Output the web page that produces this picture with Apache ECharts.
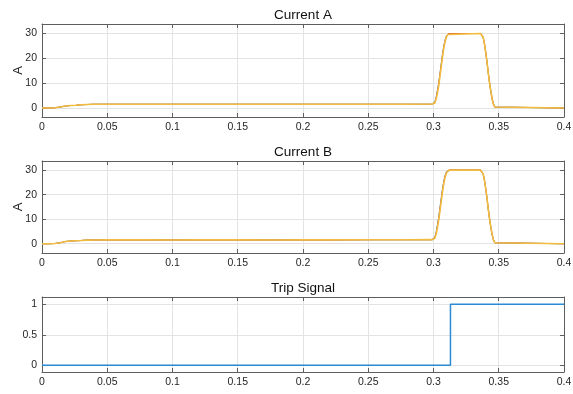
<!DOCTYPE html>
<html>
<head>
<meta charset="utf-8">
<script src="https://cdn.jsdelivr.net/npm/echarts@6/dist/echarts.min.js"></script>
<style>
  html, body { margin: 0; padding: 0; background: #fff; }
  #chart { width: 573px; height: 394px; }
</style>
</head>
<body>
<div id="chart"></div>
<script>
// Sample times (s) shared by the phase-current traces
const time = [0, 0.005, 0.01, 0.014, 0.018, 0.022, 0.026, 0.03, 0.035, 0.04, 0.05, 0.06, 0.08, 0.1,
  0.12, 0.15, 0.18, 0.2, 0.22, 0.25, 0.28, 0.299, 0.301, 0.302, 0.303, 0.304, 0.305, 0.306, 0.307,
  0.308, 0.309, 0.31, 0.311, 0.312, 0.336, 0.337, 0.338, 0.339, 0.34, 0.341, 0.342, 0.343, 0.344,
  0.345, 0.346, 0.347, 0.348, 0.4];

// Current A traces (A)
const currentA1 = [0, 0, 0.1, 0.4, 0.8, 1.0, 1.1, 1.3, 1.4, 1.5, 1.55, 1.55, 1.5, 1.5, 1.55, 1.5,
  1.5, 1.55, 1.5, 1.55, 1.55, 1.6, 2.4, 4.2, 7, 10, 14, 18, 22, 25.2, 27.5, 29, 29.8, 30, 30, 29.6,
  28.5, 26, 22.5, 18.5, 14, 10, 6.5, 3.5, 1.5, 0.4, 0, 0];
const currentA2 = [0, 0, 0.1, 0.4, 0.8, 1.0, 1.1, 1.3, 1.4, 1.5, 1.55, 1.55, 1.5, 1.5, 1.55, 1.5,
  1.5, 1.55, 1.5, 1.55, 1.55, 1.6, 2.2, 3.9, 6.6, 9.6, 13.6, 17.6, 21.6, 24.9, 27.3, 28.9, 29.7, 30,
  30, 29.6, 28.5, 26, 22.5, 18.5, 14, 10, 6.5, 3.5, 1.5, 0.4, 0, 0];
const currentA3 = [0, 0, 0.1, 0.4, 0.8, 1.0, 1.1, 1.3, 1.4, 1.5, 1.55, 1.55, 1.5, 1.5, 1.55, 1.5,
  1.5, 1.55, 1.5, 1.55, 1.55, 1.6, 2.0, 3.5, 6, 9, 13, 17, 21, 24.5, 27, 28.7, 29.6, 30, 30, 29.6,
  28.5, 26, 22.5, 18.5, 14, 10, 6.5, 3.5, 1.5, 0.4, 0, 0];

// Current B traces (A)
const currentB1 = [0, 0, 0.1, 0.4, 0.9, 1.1, 1.2, 1.3, 1.45, 1.5, 1.6, 1.55, 1.55, 1.5, 1.55, 1.55,
  1.5, 1.55, 1.55, 1.6, 1.6, 1.65, 2.6, 4.5, 7.5, 10.8, 14.8, 18.8, 22.6, 25.7, 27.9, 29.2, 29.9, 30,
  30, 29.6, 28.5, 26, 22.5, 18.5, 14, 10, 6.5, 3.5, 1.5, 0.4, 0, 0];
const currentB2 = [0, 0, 0.1, 0.4, 0.9, 1.1, 1.2, 1.3, 1.45, 1.5, 1.6, 1.55, 1.55, 1.5, 1.55, 1.55,
  1.5, 1.55, 1.55, 1.6, 1.6, 1.65, 2.4, 4.2, 7.1, 10.3, 14.3, 18.3, 22.2, 25.4, 27.7, 29.1, 29.8, 30,
  30, 29.6, 28.5, 26, 22.5, 18.5, 14, 10, 6.5, 3.5, 1.5, 0.4, 0, 0];
const currentB3 = [0, 0, 0.1, 0.4, 0.9, 1.1, 1.2, 1.3, 1.45, 1.5, 1.6, 1.55, 1.55, 1.5, 1.55, 1.55,
  1.5, 1.55, 1.55, 1.6, 1.6, 1.65, 2.2, 3.8, 6.5, 9.6, 13.6, 17.6, 21.5, 24.9, 27.3, 28.9, 29.7, 30,
  30, 29.6, 28.5, 26, 22.5, 18.5, 14, 10, 6.5, 3.5, 1.5, 0.4, 0, 0];

// Trip signal (step)
const tripTime = [0, 0.313, 0.313, 0.4];
const tripValue = [0, 0, 1, 1];

// Axis ticks
const timeTicks = [0, 0.05, 0.1, 0.15, 0.2, 0.25, 0.3, 0.35, 0.4];
const currentTicks = [0, 10, 20, 30];
const tripTicks = [0, 0.5, 1];

const titles = ['Current A', 'Current B', 'Trip Signal'];

const pair = (xs, ys) => xs.map((x, i) => [x, ys[i]]);

const FONT = '"Liberation Sans", Arial, sans-serif';
const boxColor = '#5e5e5e';
const gridColor = '#e3e3e3';
const textColor = '#262626';

const grids = [
  { left: 42, right: 9, top: 24, height: 93, outerBoundsMode: 'none', containLabel: false },
  { left: 42, right: 9, top: 161, height: 92, outerBoundsMode: 'none', containLabel: false },
  { left: 42, right: 9, top: 297, height: 75, outerBoundsMode: 'none', containLabel: false }
];
const yRanges = [[-3.6, 33.8], [-3.8, 33.7], [-0.11, 1.12]];
const yTicks = [currentTicks, currentTicks, tripTicks];

const xAxes = [];
const yAxes = [];
grids.forEach((g, i) => {
  // bottom axis with labels
  xAxes.push({
    type: 'value', gridIndex: i, min: 0, max: 0.4, interval: 0.05, position: 'bottom',
    axisLine: { show: true, onZero: false, lineStyle: { color: boxColor, width: 1 } },
    axisTick: { show: true, inside: true, length: 4, lineStyle: { color: boxColor } },
    axisLabel: {
      show: true, color: textColor, fontFamily: FONT, fontSize: 10.5, margin: 5,
      customValues: timeTicks,
      formatter: v => String(+v.toFixed(2))
    },
    splitLine: { show: true, lineStyle: { color: gridColor, width: 1 } }
  });
  // top border with ticks only
  xAxes.push({
    type: 'value', gridIndex: i, min: 0, max: 0.4, interval: 0.05, position: 'top',
    axisLine: { show: true, onZero: false, lineStyle: { color: boxColor, width: 1 } },
    axisTick: { show: true, inside: true, length: 4, lineStyle: { color: boxColor } },
    axisLabel: { show: false },
    splitLine: { show: false }
  });
  yAxes.push({
    type: 'value', gridIndex: i, min: yRanges[i][0], max: yRanges[i][1], position: 'left',
    name: i < 2 ? 'A' : '', nameLocation: 'middle', nameGap: 17, nameRotate: 90,
    nameMoveOverlap: false,
    nameTextStyle: { color: textColor, fontFamily: FONT, fontSize: 13 },
    axisLine: { show: true, onZero: false, lineStyle: { color: boxColor, width: 1 } },
    axisTick: { show: true, inside: true, length: 4, customValues: yTicks[i], lineStyle: { color: boxColor } },
    axisLabel: { show: true, customValues: yTicks[i], color: textColor, fontFamily: FONT, fontSize: 10.5, margin: 5 },
    splitLine: { show: true, lineStyle: { color: gridColor, width: 1 } }
  });
  yAxes.push({
    type: 'value', gridIndex: i, min: yRanges[i][0], max: yRanges[i][1], position: 'right',
    axisLine: { show: true, onZero: false, lineStyle: { color: boxColor, width: 1 } },
    axisTick: { show: true, inside: true, length: 4, customValues: yTicks[i], lineStyle: { color: boxColor } },
    axisLabel: { show: false },
    splitLine: { show: false }
  });
});

const lineSeries = (data, color, width, gi) => ({
  type: 'line', xAxisIndex: gi * 2, yAxisIndex: gi * 2, data,
  showSymbol: false, symbol: 'none', smooth: false, animation: false,
  lineStyle: { color, width }
});

const BLUE = '#1f84d0';
const ORANGE = '#e0602a';
const YELLOW = '#F4BC3E';

// Subplot titles, centred over each plot area
const plotCenterX = 42 + (573 - 42 - 9) / 2;
const titleGraphics = titles.map((t, i) => ({
  type: 'text', x: plotCenterX, y: grids[i].top - 16,
  style: {
    text: t, textAlign: 'center', textVerticalAlign: 'top',
    font: '13.5px ' + FONT, fill: '#111'
  }
}));

const option = {
  backgroundColor: '#ffffff',
  animation: false,
  graphic: titleGraphics,
  grid: grids,
  xAxis: xAxes,
  yAxis: yAxes,
  series: [
    lineSeries(pair(time, currentA1), BLUE, 1.1, 0),
    lineSeries(pair(time, currentA2), ORANGE, 1.1, 0),
    lineSeries(pair(time, currentA3), YELLOW, 1.6, 0),
    lineSeries(pair(time, currentB1), BLUE, 1.1, 1),
    lineSeries(pair(time, currentB2), ORANGE, 1.1, 1),
    lineSeries(pair(time, currentB3), YELLOW, 1.6, 1),
    lineSeries(pair(tripTime, tripValue), '#2b8ad4', 1.5, 2)
  ]
};

const chart = echarts.init(document.getElementById('chart'), null, { renderer: 'canvas' });
chart.setOption(option);
</script>
</body>
</html>
